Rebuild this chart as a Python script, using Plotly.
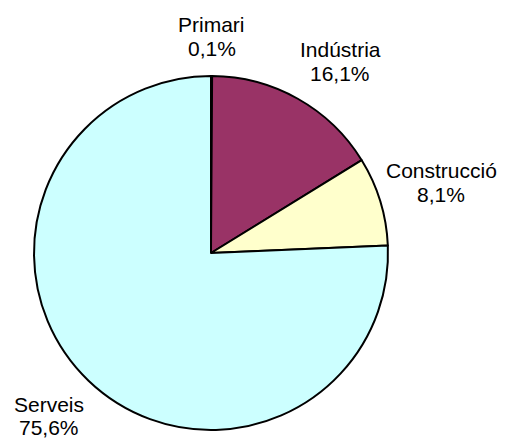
import math
import plotly.graph_objects as go

categories = ["Primari", "Indústria", "Construcció", "Serveis"]
values = [0.1, 16.1, 8.1, 75.6]  # percentages
colors = ["#9999FF", "#993366", "#FFFFCC", "#CCFFFF"]

# page body has an 8px margin, so the figure is laid out 8px in from the window corner
OFF = 8
W, H = 510 - OFF, 441 - OFF
cx, cy, R = 211 - OFF, 253 - OFF, 177  # pie centre and radius in figure pixels
gap_x, gap_y = 6, 16
FONT = "Liberation Sans, Arial, sans-serif"
FS = 21
LINE = 23.5

# Arial advance widths (per 1000 em) for width estimation of label blocks
_AW = {"P": 667, "r": 333, "i": 222, "m": 833, "a": 556, ",": 278, "%": 889,
       "I": 278, "n": 556, "d": 556, "ú": 556, "s": 500, "t": 278, "C": 722,
       "o": 556, "u": 556, "c": 500, "ó": 556, "S": 667, "e": 556, "v": 500}


def text_w(s):
    return sum(_AW.get(ch, 556) for ch in s) / 1000 * FS


def clamp(v):
    return max(-1.0, min(1.0, v))


fig = go.Figure(go.Pie(
    labels=categories,
    values=values,
    sort=False,
    direction="clockwise",
    rotation=0,
    marker=dict(colors=colors, line=dict(color="black", width=2)),
    textinfo="none",
    hoverinfo="label+percent",
    domain=dict(x=[(cx - R) / W, (cx + R) / W],
                y=[(H - cy - R) / H, (H - cy + R) / H]),
    showlegend=False,
))

total = sum(values)
cum = 0.0
annotations = []
for name, v in zip(categories, values):
    mid = (cum + v / 2) / total * 2 * math.pi
    cum += v
    s, c = math.sin(mid), math.cos(mid)
    pct = f"{v:.1f}".replace(".", ",") + "%"
    bw = max(text_w(name), text_w(pct))
    bh = 2 * LINE
    bx = cx + (R + gap_x) * s + bw / 2 * clamp(2 * s)
    by = cy - (R + gap_y) * c - bh / 2 * clamp(2 * c)
    for k, line in enumerate([name, pct]):
        ly = by + (k - 0.5) * LINE
        annotations.append(dict(
            x=bx / W, y=1 - ly / H, xref="paper", yref="paper",
            text=line, showarrow=False,
            xanchor="center", yanchor="middle", align="center",
            font=dict(family=FONT, size=FS, color="black"),
        ))

fig.update_layout(
    width=W, height=H,
    margin=dict(l=0, r=0, t=0, b=0),
    paper_bgcolor="white", plot_bgcolor="white",
    annotations=annotations,
)

fig.write_html("out.html")
